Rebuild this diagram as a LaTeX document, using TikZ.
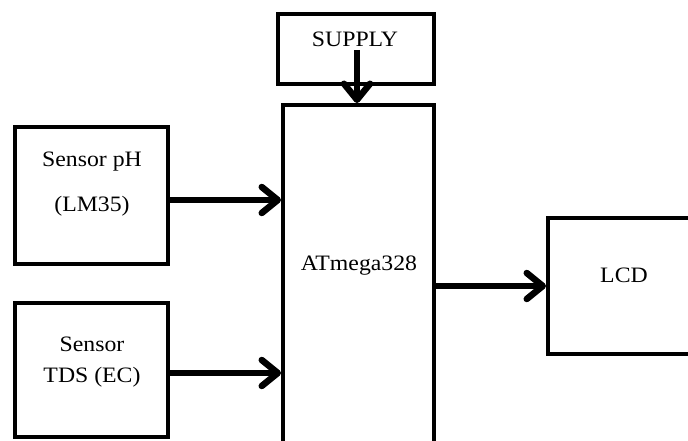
\documentclass[tikz,border=0pt]{standalone}
\usepackage{fontspec}
\setmainfont{Liberation Serif}[FakeStretch=1.08]
\usetikzlibrary{arrows.meta}
\begin{document}
\begin{tikzpicture}[x=1pt,y=-1pt,
  blockbox/.style={draw=black,line width=4pt,minimum width=#1,inner sep=0pt},
  txt/.style={anchor=base,inner sep=0pt,font=\fontsize{22}{26}\selectfont},
  conn/.style={line width=6.5pt,-{Straight Barb[length=16pt,width=26pt,round]}}]
\useasboundingbox (0,0) rectangle (688,441);
\clip (0,0) rectangle (688,441);
\fill[white] (0,0) rectangle (688,441);
% blocks
\node[blockbox=156pt,minimum height=70pt] (supply) at (356,49) {};
\node[blockbox=151pt,minimum height=370pt] (mcu) at (358.5,290) {};
\node[blockbox=153pt,minimum height=137pt] (ph) at (91.5,195.5) {};
\node[blockbox=153pt,minimum height=134pt] (tds) at (91.5,370) {};
\node[blockbox=162pt,minimum height=136pt] (lcd) at (629,286) {};
% texts
\node[txt] (tsupply) at (355,47) {SUPPLY};
\node[txt] (tmcu) at (359,270.5) {ATmega328};
\node[txt] (tph1) at (92,166) {Sensor pH};
\node[txt] (tph2) at (92,211) {(LM35)};
\node[txt] (ttds1) at (92,351.5) {Sensor};
\node[txt] (ttds2) at (92,382.5) {TDS (EC)};
\node[txt] (tlcd) at (624,282) {LCD};
% connectors
\coordinate (sin) at (357,50);
\draw[conn] (sin) -- (sin |- mcu.north);
\draw[conn] ([yshift=-4.5pt]ph.east) -- ([yshift=-4.5pt]ph.east -| mcu.west);
\draw[conn] ([yshift=-3pt]tds.east) -- ([yshift=-3pt]tds.east -| mcu.west);
\draw[conn] (lcd.west -| mcu.east) -- (lcd.west);
\end{tikzpicture}
\end{document}
